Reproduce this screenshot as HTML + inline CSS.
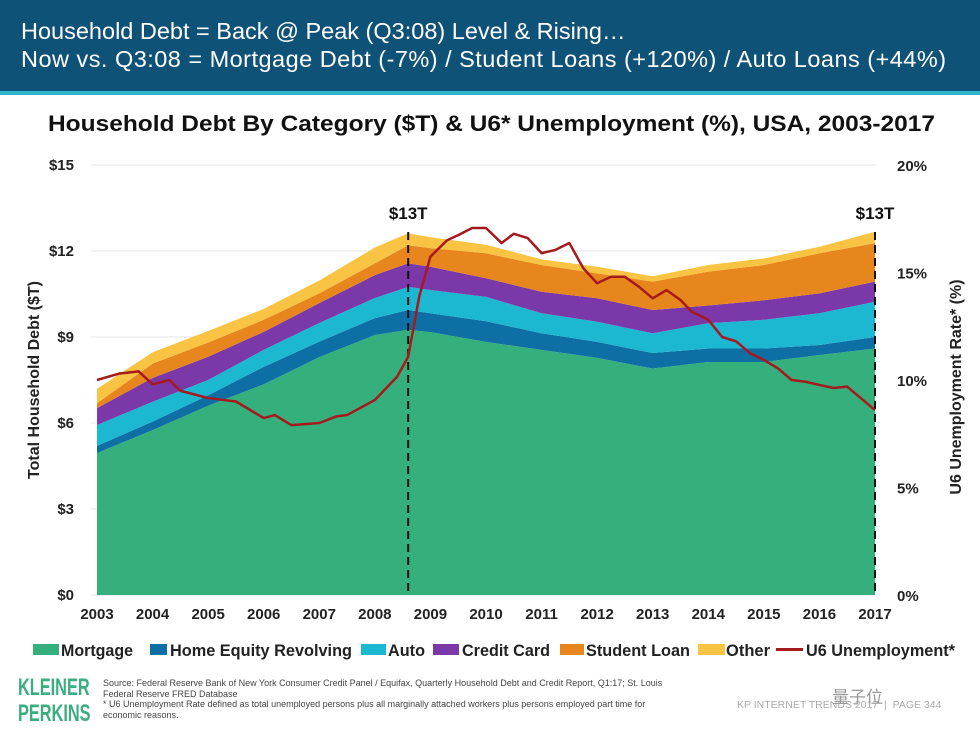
<!DOCTYPE html>
<html><head><meta charset="utf-8"><style>
body{margin:0;width:980px;height:735px;background:#fff;overflow:hidden;font-family:"Liberation Sans",sans-serif;position:relative}
#hdr{position:absolute;left:0;top:0;width:980px;height:91px;background:#0f5278}
#hdr div{position:absolute;left:21px;color:#fff;font-size:23.5px;white-space:nowrap}
#bar{position:absolute;left:0;top:91px;width:980px;height:4px;background:#2fb5c9}
.ft{position:absolute;white-space:nowrap}
</style></head><body>
<div id="hdr">
<div style="top:18px">Household Debt = Back @ Peak (Q3:08) Level &amp; Rising…</div>
<div style="top:46px;letter-spacing:0.48px">Now vs. Q3:08 = Mortgage Debt (-7%) / Student Loans (+120%) / Auto Loans (+44%)</div>
</div>
<div id="bar"></div>
<svg id="chart" width="980" height="735" style="position:absolute;left:0;top:0"></svg>
<div class="ft" style="left:18px;top:675px;color:#3aae7e;font-weight:bold;font-size:24px;line-height:26px;transform:scaleX(0.68);transform-origin:left">KLEINER<br>PERKINS</div>
<div class="ft" style="left:103px;top:678px;font-size:9px;color:#444;line-height:10.5px">Source: Federal Reserve Bank of New York Consumer Credit Panel / Equifax, Quarterly Household Debt and Credit Report, Q1:17; St. Louis<br>Federal Reserve FRED Database<br>* U6 Unemployment Rate defined as total unemployed persons plus all marginally attached workers plus persons employed part time for<br>economic reasons.</div>
<div class="ft" style="left:737px;top:699px;font-size:10.5px;color:#aaa">KP INTERNET TRENDS 2017 &nbsp;|&nbsp; PAGE 344</div>
<div class="ft" style="left:832px;top:683px;font-size:17px;color:#999;font-family:'Liberation Sans','Noto Sans CJK SC',sans-serif">量子位</div>
<script>
const years=[2003,2004,2005,2006,2007,2008,2008.6,2009,2010,2011,2012,2013,2014,2015,2016,2017];
const mortgage=[4.95,5.75,6.6,7.35,8.3,9.07,9.25,9.17,8.83,8.55,8.27,7.9,8.13,8.13,8.37,8.6];
const homeEquity=[0.25,0.30,0.37,0.61,0.54,0.59,0.69,0.66,0.72,0.58,0.56,0.54,0.47,0.47,0.35,0.40];
const auto=[0.73,0.69,0.53,0.59,0.65,0.70,0.81,0.81,0.85,0.70,0.70,0.69,0.88,1.0,1.11,1.23];
const creditCard=[0.59,0.83,0.81,0.63,0.69,0.80,0.82,0.81,0.65,0.75,0.82,0.81,0.62,0.68,0.69,0.70];
const studentLoan=[0.17,0.50,0.50,0.42,0.34,0.41,0.63,0.65,0.87,0.93,0.87,0.99,1.18,1.23,1.40,1.34];
const other=[0.50,0.40,0.40,0.38,0.45,0.55,0.42,0.38,0.30,0.20,0.23,0.19,0.23,0.23,0.23,0.40];
const u6Years=[2003,2003.4,2003.75,2004,2004.3,2004.5,2005,2005.5,2006,2006.2,2006.5,2007,2007.3,2007.5,2008,2008.4,2008.6,2008.8,2009,2009.3,2009.5,2009.75,2010,2010.28,2010.5,2010.75,2011,2011.25,2011.5,2011.75,2012,2012.25,2012.5,2012.75,2013,2013.25,2013.5,2013.7,2014,2014.25,2014.5,2014.75,2015,2015.25,2015.5,2015.75,2016,2016.25,2016.5,2017];
const u6Rate=[10.0,10.3,10.4,9.8,10.0,9.5,9.16,9.0,8.23,8.37,7.9,8.0,8.3,8.37,9.07,10.15,11.08,13.9,15.74,16.5,16.74,17.07,17.07,16.37,16.8,16.6,15.9,16.05,16.37,15.2,14.5,14.8,14.8,14.34,13.8,14.18,13.72,13.18,12.8,12.0,11.8,11.25,10.93,10.55,10.0,9.92,9.77,9.63,9.69,8.6];
const leftTicks=[0,3,6,9,12,15];
const rightTicks=[0,5,10,15,20];
const xTicks=[2003,2004,2005,2006,2007,2008,2009,2010,2011,2012,2013,2014,2015,2016,2017];
const markers=[2008.6,2017];
const markerLabels=["$13T","$13T"];
const seriesNames=["Mortgage","Home Equity Revolving","Auto","Credit Card","Student Loan","Other"];
const colors=["#35b07d","#0d6fa3","#1cb8d2","#7a38a8","#e8861e","#f9c443"];

const L=97,R=875,T=165,B=595;
const x=v=>L+(v-2003)/(2017-2003)*(R-L);
const y=v=>B-v/15*(B-T);
const yr=v=>B-v/20*(B-T);
const svg=document.getElementById('chart');
const NS='http://www.w3.org/2000/svg';
function mk(tag,attrs,parent){const e=document.createElementNS(NS,tag);for(const k in attrs)e.setAttribute(k,attrs[k]);(parent||svg).appendChild(e);return e;}
function txt(s,attrs){const e=mk('text',attrs);e.textContent=s;return e;}

txt("Household Debt By Category ($T) & U6* Unemployment (%), USA, 2003-2017",{x:48,y:131,textLength:887,lengthAdjust:'spacingAndGlyphs','font-size':22,'font-weight':'bold',fill:'#111',});

leftTicks.forEach(t=>{
 const g=mk('line',{x1:91,x2:876,y1:y(t),y2:y(t),stroke:'#e4e4e4','stroke-width':1});
 
 
 const l=txt('$'+t,{x:74,y:y(t)+5,'text-anchor':'end','font-size':15,'font-weight':'bold',fill:'#222'});
 
 
});
rightTicks.forEach(t=>{
 const l=txt(t+'%',{x:897,y:yr(t)+6,'font-size':15,'font-weight':'bold',fill:'#222'});
 
 
});
xTicks.forEach(t=>{
 const l=txt(String(t),{x:x(t),y:619,'text-anchor':'middle','font-size':15,'font-weight':'bold',fill:'#222'});
 
 
});
txt("Total Household Debt ($T)",{transform:'translate(39,380) rotate(-90)','text-anchor':'middle','font-size':16,'font-weight':'bold',fill:'#222',});
txt("U6 Unemployment Rate* (%)",{transform:'translate(961,387) rotate(-90)','text-anchor':'middle','font-size':16,'font-weight':'bold',fill:'#222',});

const series=[mortgage,homeEquity,auto,creditCard,studentLoan,other];
let base=years.map(()=>0);
series.forEach((s,i)=>{
 const top=base.map((b,j)=>b+s[j]);
 let d='M'+years.map((yv,j)=>x(yv)+','+y(top[j])).join(' L');
 for(let j=years.length-1;j>=0;j--)d+=' L'+x(years[j])+','+y(base[j]);
 const p=mk('path',{d:d+'Z',fill:colors[i]});
 
 
 base=top;
});

markers.forEach((m,i)=>{
 const ln=mk('line',{x1:x(m),x2:x(m),y1:232,y2:B,stroke:'#111','stroke-width':2,'stroke-dasharray':'8,5'});
 
 
 const t=txt(markerLabels[i],{x:x(m),y:219,'text-anchor':'middle','font-size':17,'font-weight':'bold',fill:'#111'});
 
 
});

const u=mk('polyline',{points:u6Years.map((v,j)=>x(v)+','+yr(u6Rate[j])).join(' '),fill:'none',stroke:'#a6191e','stroke-width':2.5,'stroke-linejoin':'round'});



// legend
const legItems=seriesNames.concat(["U6 Unemployment*"]);
const legColors=colors.concat(["#a6191e"]);
const swX=[33,150,361,433,560,698,776];
const swW=[26,17,25,26,24,27,27];
const txX=[61,170,388,462,586,726,806];
const txW=[72,182,37,88,104,44,149];
legItems.forEach((n,i)=>{
 if(i<6){const r=mk('rect',{x:swX[i],y:644,width:swW[i],height:11,fill:legColors[i]});
  
  }
 else{const r=mk('rect',{x:swX[i],y:648,width:swW[i],height:3,fill:legColors[i]});
  
  }
 const t=txt(n,{x:txX[i],y:656,textLength:txW[i],lengthAdjust:'spacingAndGlyphs','font-size':17,'font-weight':'bold',fill:'#222'});
 
 
});
</script>
</body></html>
